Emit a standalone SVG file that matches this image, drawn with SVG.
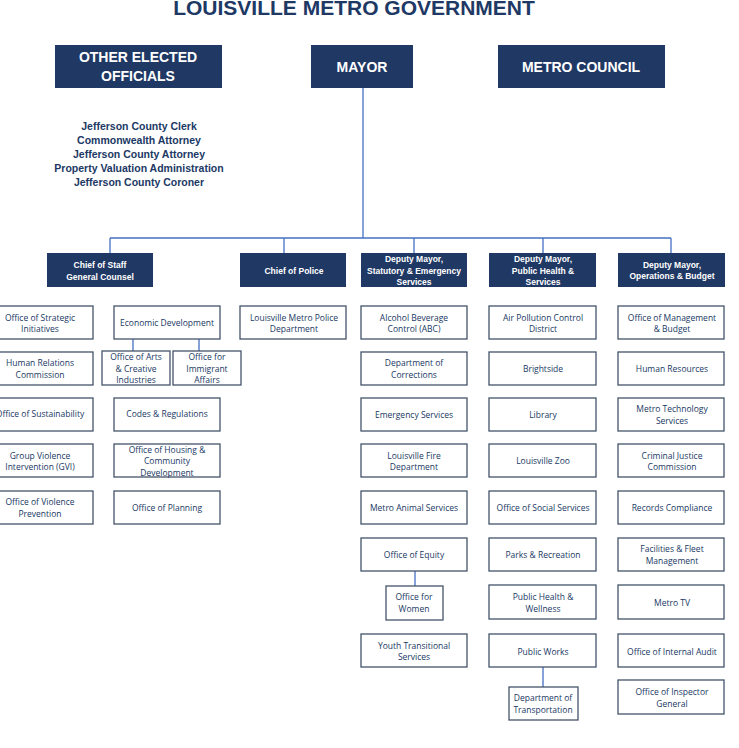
<svg xmlns="http://www.w3.org/2000/svg" width="739" height="748" viewBox="0 0 739 748">
<style>
.h{fill:#203864}
.ht{fill:#fff;font-family:"Liberation Sans",Arial,sans-serif;font-weight:bold;text-anchor:middle}
.b{fill:#fff;stroke:#44546a;stroke-width:1.3}
.t{fill:#203864;font-family:"Open Sans","Liberation Sans",sans-serif;font-size:8.5px;text-anchor:middle}
.c{stroke:#4472c4;stroke-width:1.3;fill:none}
.e{fill:#203864;font-family:"Liberation Sans",Arial,sans-serif;font-size:10.5px;font-weight:bold;text-anchor:middle}
</style>
<rect width="739" height="748" fill="#fff"/>
<text x="354" y="15" font-family="Liberation Sans,Arial,sans-serif" font-size="21" font-weight="bold" fill="#203864" text-anchor="middle">LOUISVILLE METRO GOVERNMENT</text>
<g id="connectors" class="c">
<path d="M363 88V238M110 238H671M110 238V253M284 238V253M414 238V253M543 238V253M671 238V253"/>
<path d="M133 339V351M199 339V351M415 571V586M543 667V687"/>
</g>
<g id="other"><rect class="h" x="55" y="45" width="167" height="43"/><text class="ht" font-size="14" x="138" y="62">OTHER ELECTED</text><text class="ht" font-size="14" x="138" y="81">OFFICIALS</text></g>
<g id="mayor"><rect class="h" x="311" y="45" width="102" height="43"/><text class="ht" font-size="14" x="362" y="72">MAYOR</text></g>
<g id="council"><rect class="h" x="498" y="45" width="167" height="43"/><text class="ht" font-size="14" x="581" y="72">METRO COUNCIL</text></g>
<g id="elected-list">
<text class="e" x="139" y="130">Jefferson County Clerk</text>
<text class="e" x="139" y="144">Commonwealth Attorney</text>
<text class="e" x="139" y="158">Jefferson County Attorney</text>
<text class="e" x="139" y="172">Property Valuation Administration</text>
<text class="e" x="139" y="186">Jefferson County Coroner</text>
</g>
<g id="cos"><rect class="h" x="47" y="253" width="106" height="34"/><text class="ht" font-size="8.5" x="100" y="268">Chief of Staff</text><text class="ht" font-size="8.5" x="100" y="280">General Counsel</text></g>
<g id="cop"><rect class="h" x="240" y="253" width="106" height="34"/><text class="ht" font-size="8.5" x="294" y="274">Chief of Police</text></g>
<g id="dm1"><rect class="h" x="361" y="253" width="106" height="34"/><text class="ht" font-size="8.5" x="414" y="262">Deputy Mayor,</text><text class="ht" font-size="8.5" x="414" y="274">Statutory &amp; Emergency</text><text class="ht" font-size="8.5" x="414" y="285">Services</text></g>
<g id="dm2"><rect class="h" x="489" y="253" width="107" height="34"/><text class="ht" font-size="8.5" x="543" y="262">Deputy Mayor,</text><text class="ht" font-size="8.5" x="543" y="274">Public Health  &amp;</text><text class="ht" font-size="8.5" x="543" y="285">Services</text></g>
<g id="dm3"><rect class="h" x="618" y="253" width="107" height="34"/><text class="ht" font-size="8.5" x="672" y="268">Deputy Mayor,</text><text class="ht" font-size="8.5" x="672" y="279">Operations &amp; Budget</text></g>

<g id="n1"><rect class="b" x="-1" y="306" width="94" height="33"/><text class="t" x="40" y="321">Office of Strategic</text><text class="t" x="40" y="332">Initiatives</text></g>
<g id="n2"><rect class="b" x="-1" y="352" width="94" height="33"/><text class="t" x="40" y="366">Human Relations</text><text class="t" x="40" y="378">Commission</text></g>
<g id="n3"><rect class="b" x="-1" y="398" width="94" height="33"/><text class="t" x="40" y="417">Office of Sustainability</text></g>
<g id="n4"><rect class="b" x="-1" y="444" width="94" height="33"/><text class="t" x="40" y="459">Group Violence</text><text class="t" x="40" y="470">Intervention (GVI)</text></g>
<g id="n5"><rect class="b" x="-1" y="491" width="94" height="33"/><text class="t" x="40" y="505">Office of Violence</text><text class="t" x="40" y="517">Prevention</text></g>

<g id="n6"><rect class="b" x="114" y="306" width="106" height="33"/><text class="t" x="167" y="326">Economic Development</text></g>
<g id="n7"><rect class="b" x="102" y="351" width="68" height="34"/><text class="t" x="136" y="360">Office of Arts</text><text class="t" x="136" y="372">&amp; Creative</text><text class="t" x="136" y="383">Industries</text></g>
<g id="n8"><rect class="b" x="173" y="351" width="68" height="34"/><text class="t" x="207" y="360">Office for</text><text class="t" x="207" y="372">Immigrant</text><text class="t" x="207" y="383">Affairs</text></g>
<g id="n9"><rect class="b" x="114" y="398" width="106" height="33"/><text class="t" x="167" y="417">Codes &amp; Regulations</text></g>
<g id="n10"><rect class="b" x="114" y="444" width="106" height="33"/><text class="t" x="167" y="453">Office of Housing &amp;</text><text class="t" x="167" y="464">Community</text><text class="t" x="167" y="476">Development</text></g>
<g id="n11"><rect class="b" x="114" y="491" width="106" height="33"/><text class="t" x="167" y="511">Office of Planning</text></g>

<g id="n12"><rect class="b" x="240" y="306" width="106" height="33"/><text class="t" x="294" y="321">Louisville Metro Police</text><text class="t" x="294" y="332">Department</text></g>

<g id="n13"><rect class="b" x="361" y="306" width="106" height="33"/><text class="t" x="414" y="321">Alcohol Beverage</text><text class="t" x="414" y="332">Control (ABC)</text></g>
<g id="n14"><rect class="b" x="361" y="352" width="106" height="33"/><text class="t" x="414" y="366">Department of</text><text class="t" x="414" y="378">Corrections</text></g>
<g id="n15"><rect class="b" x="361" y="398" width="106" height="33"/><text class="t" x="414" y="418">Emergency Services</text></g>
<g id="n16"><rect class="b" x="361" y="444" width="106" height="33"/><text class="t" x="414" y="459">Louisville Fire</text><text class="t" x="414" y="470">Department</text></g>
<g id="n17"><rect class="b" x="361" y="491" width="106" height="33"/><text class="t" x="414" y="511">Metro Animal Services</text></g>
<g id="n18"><rect class="b" x="361" y="538" width="106" height="33"/><text class="t" x="414" y="558">Office of Equity</text></g>
<g id="n19"><rect class="b" x="386" y="586" width="57" height="34"/><text class="t" x="414" y="600">Office for</text><text class="t" x="414" y="612">Women</text></g>
<g id="n20"><rect class="b" x="361" y="634" width="106" height="33"/><text class="t" x="414" y="649">Youth Transitional</text><text class="t" x="414" y="660">Services</text></g>

<g id="n21"><rect class="b" x="489" y="306" width="107" height="33"/><text class="t" x="543" y="321">Air Pollution Control</text><text class="t" x="543" y="332">District</text></g>
<g id="n22"><rect class="b" x="489" y="352" width="107" height="33"/><text class="t" x="543" y="372">Brightside</text></g>
<g id="n23"><rect class="b" x="489" y="398" width="107" height="33"/><text class="t" x="543" y="418">Library</text></g>
<g id="n24"><rect class="b" x="489" y="444" width="107" height="33"/><text class="t" x="543" y="464">Louisville Zoo</text></g>
<g id="n25"><rect class="b" x="489" y="491" width="107" height="33"/><text class="t" x="543" y="511">Office of Social Services</text></g>
<g id="n26"><rect class="b" x="489" y="538" width="107" height="33"/><text class="t" x="543" y="558">Parks &amp; Recreation</text></g>
<g id="n27"><rect class="b" x="489" y="585" width="107" height="34"/><text class="t" x="543" y="600">Public Health &amp;</text><text class="t" x="543" y="612">Wellness</text></g>
<g id="n28"><rect class="b" x="489" y="634" width="107" height="33"/><text class="t" x="543" y="655">Public Works</text></g>
<g id="n29"><rect class="b" x="509" y="687" width="69" height="33"/><text class="t" x="543" y="701">Department of</text><text class="t" x="543" y="713">Transportation</text></g>

<g id="n30"><rect class="b" x="618" y="306" width="106" height="33"/><text class="t" x="672" y="321">Office of Management</text><text class="t" x="672" y="332">&amp; Budget</text></g>
<g id="n31"><rect class="b" x="618" y="352" width="106" height="33"/><text class="t" x="672" y="372">Human Resources</text></g>
<g id="n32"><rect class="b" x="618" y="398" width="106" height="33"/><text class="t" x="672" y="412">Metro Technology</text><text class="t" x="672" y="424">Services</text></g>
<g id="n33"><rect class="b" x="618" y="444" width="106" height="33"/><text class="t" x="672" y="459">Criminal Justice</text><text class="t" x="672" y="470">Commission</text></g>
<g id="n34"><rect class="b" x="618" y="491" width="106" height="33"/><text class="t" x="672" y="511">Records Compliance</text></g>
<g id="n35"><rect class="b" x="618" y="538" width="106" height="33"/><text class="t" x="672" y="552">Facilities &amp; Fleet</text><text class="t" x="672" y="564">Management</text></g>
<g id="n36"><rect class="b" x="618" y="585" width="106" height="34"/><text class="t" x="672" y="606">Metro TV</text></g>
<g id="n37"><rect class="b" x="618" y="634" width="106" height="33"/><text class="t" x="672" y="655">Office of Internal Audit</text></g>
<g id="n38"><rect class="b" x="618" y="680" width="106" height="34"/><text class="t" x="672" y="695">Office of Inspector</text><text class="t" x="672" y="707">General</text></g>
</svg>
